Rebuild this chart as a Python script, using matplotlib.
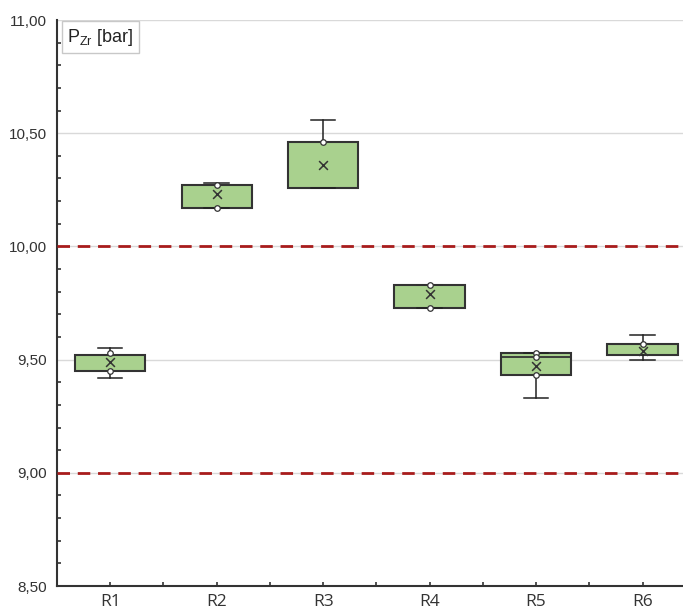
import matplotlib
matplotlib.use("Agg")
import matplotlib.pyplot as plt
from matplotlib.ticker import MultipleLocator, FuncFormatter

# box statistics
labels = ["R1", "R2", "R3", "R4", "R5", "R6"]
whis_low = [9.42, 10.17, 10.26, 9.73, 9.33, 9.50]
q1 = [9.45, 10.17, 10.26, 9.73, 9.43, 9.52]
medians = [9.52, 10.27, 10.46, 9.83, 9.51, 9.57]
q3 = [9.52, 10.27, 10.46, 9.83, 9.53, 9.57]
whis_high = [9.55, 10.28, 10.56, 9.83, 9.53, 9.61]
means = [9.49, 10.23, 10.36, 9.79, 9.47, 9.54]
inner_points = [
    [9.53, 9.45],
    [10.27, 10.17],
    [10.46],
    [9.83, 9.73],
    [9.53, 9.51, 9.43],
    [9.57],
]
limits = [9.0, 10.0]

fig = plt.figure(figsize=(6.83, 6.13), dpi=100)
ax = fig.add_axes([57 / 683, 27 / 613, 626 / 683, 566 / 613])

positions = list(range(1, len(labels) + 1))
stats = []
for i in range(len(labels)):
    stats.append({
        "whislo": whis_low[i], "q1": q1[i], "med": medians[i],
        "q3": q3[i], "whishi": whis_high[i], "fliers": [],
    })

ax.bxp(stats, positions=positions, widths=0.66, patch_artist=True,
       showmeans=False, showfliers=False,
       boxprops=dict(facecolor="#a9d18e", edgecolor="#333333", linewidth=1.5),
       medianprops=dict(color="#333333", linewidth=1.3),
       whiskerprops=dict(color="#222222", linewidth=1.1),
       capprops=dict(color="#222222", linewidth=1.1),
       capwidths=0.23, zorder=3)

# mean markers
ax.scatter(positions, means, marker="x", s=40, color="#333333", linewidths=1.1, zorder=5)

# inner data points
for pos, pts in zip(positions, inner_points):
    ax.plot([pos] * len(pts), pts, linestyle="none", marker="o", markersize=4,
            markerfacecolor="white", markeredgecolor="#333333", markeredgewidth=0.9, zorder=6)

# limit lines
for lim in limits:
    ax.axhline(lim, color="#a81c1c", linestyle=(0, (4.5, 2.8)), linewidth=2, zorder=4)

ax.set_xlim(0.5, 6.38)
ax.set_ylim(8.5, 11.0)

ax.yaxis.set_major_locator(MultipleLocator(0.5))
ax.yaxis.set_minor_locator(MultipleLocator(0.1))
ax.yaxis.set_major_formatter(FuncFormatter(lambda v, p: f"{v:.2f}".replace(".", ",")))
ax.set_xticks(positions)
ax.set_xticklabels(labels)
ax.xaxis.set_minor_locator(MultipleLocator(0.5))

ax.grid(axis="y", which="major", color="#d9d9d9", linewidth=1, zorder=0)
ax.set_axisbelow(True)

for side in ["top", "right"]:
    ax.spines[side].set_visible(False)
for side in ["left", "bottom"]:
    ax.spines[side].set_color("#333333")
    ax.spines[side].set_linewidth(1.5)

ax.tick_params(axis="y", which="major", direction="in", length=0, pad=7,
               labelsize=11, labelcolor="#333333")
ax.tick_params(axis="y", which="minor", direction="in", length=3, width=1.2, color="#333333")
ax.tick_params(axis="x", which="both", direction="in", length=3, width=1.2, color="#333333")
ax.tick_params(axis="x", which="major", pad=6, labelsize=12.5, labelcolor="#333333")
for t in ax.get_yticklabels():
    t.set_family("Liberation Sans")
for t in ax.get_xticklabels():
    t.set_family("Open Sans")

ax.text(0.016, 0.988, r"P$_\mathregular{Zr}$ [bar]", transform=ax.transAxes,
        ha="left", va="top", fontsize=13, family="Liberation Sans", color="#222222",
        bbox=dict(boxstyle="square,pad=0.3", facecolor="white", edgecolor="#c8c8c8", linewidth=1))

fig.savefig("out.png", dpi=100)
